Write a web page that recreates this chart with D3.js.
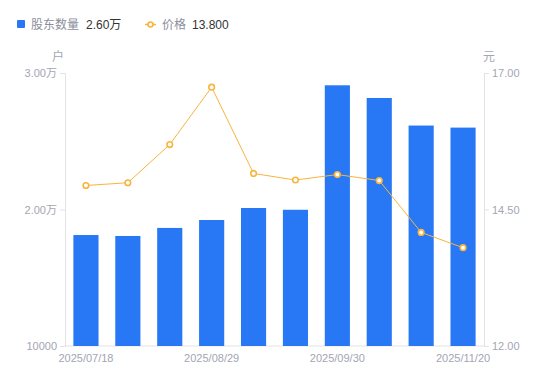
<!DOCTYPE html>
<html>
<head>
<meta charset="utf-8">
<script src="https://cdn.jsdelivr.net/npm/d3@7/dist/d3.min.js"></script>
<style>
  body { margin: 0; background: #fff; }
  svg text { font-family: "Liberation Sans", "Noto Sans CJK SC", sans-serif; }
</style>
</head>
<body>
<div id="chart"></div>
<script>
const dates = ['2025/07/18', '2025/07/31', '2025/08/15', '2025/08/29', '2025/09/10',
               '2025/09/19', '2025/09/30', '2025/10/20', '2025/10/31', '2025/11/20'];
const holders = [18130, 18060, 18650, 19230, 20110, 19980, 29100, 28170, 26150, 26000];
const prices = [14.94, 14.99, 15.69, 16.74, 15.16, 15.04, 15.14, 15.03, 14.08, 13.80];
const holderTicks = [10000, 20000, 30000];
const priceTicks = [12, 14.5, 17];
const shownDates = ['2025/07/18', '2025/08/29', '2025/09/30', '2025/11/20'];

const width = 550, height = 381;
const margin = { top: 73, right: 66, bottom: 35, left: 65 };
const innerW = width - margin.left - margin.right;
const innerH = height - margin.top - margin.bottom;

const barColor = '#2878f5';
const lineColor = '#f8b43f';
const axisColor = '#e3e3e6';
const textColor = '#a3a5b3';

const svg = d3.select('#chart').append('svg')
    .attr('width', width)
    .attr('height', height);

const g = svg.append('g')
    .attr('transform', 'translate(' + margin.left + ',' + margin.top + ')');

const x = d3.scaleBand().domain(dates).range([0, innerW]).paddingInner(0.4).paddingOuter(0.2);
const yL = d3.scaleLinear().domain([10000, 30000]).range([innerH, 0]);
const yR = d3.scaleLinear().domain([12, 17]).range([innerH, 0]);

function fmtHolder(v) {
    return v >= 20000 ? (v / 10000).toFixed(2) + '万' : String(v);
}

// axes
const leftAxis = g.append('g')
    .call(d3.axisLeft(yL).tickValues(holderTicks).tickFormat(fmtHolder).tickSize(5).tickPadding(3));
const rightAxis = g.append('g')
    .attr('transform', 'translate(' + innerW + ',0)')
    .call(d3.axisRight(yR).tickValues(priceTicks).tickFormat(d3.format('.2f')).tickSize(5).tickPadding(3));
const bottomAxis = g.append('g')
    .attr('transform', 'translate(0,' + innerH + ')')
    .call(d3.axisBottom(x).tickValues(shownDates).tickSize(0).tickPadding(8));

[leftAxis, rightAxis, bottomAxis].forEach(a => {
    a.select('.domain').attr('stroke', axisColor);
    a.selectAll('.tick line').attr('stroke', axisColor);
    a.selectAll('text')
        .attr('fill', textColor)
        .style('font-size', '11px')
        .style('font-family', '"Liberation Sans", "Noto Sans CJK SC", sans-serif');
});
bottomAxis.select('.domain').attr('d', 'M0,0H' + innerW);

// unit labels
g.append('text')
    .attr('x', -7).attr('y', -12)
    .attr('text-anchor', 'middle')
    .attr('fill', textColor)
    .style('font-size', '12px')
    .text('户');
g.append('text')
    .attr('x', innerW + 5).attr('y', -12)
    .attr('text-anchor', 'middle')
    .attr('fill', textColor)
    .style('font-size', '12px')
    .text('元');

// bars
g.selectAll('.bar')
    .data(holders)
  .enter().append('rect')
    .classed('bar', true)
    .attr('x', (d, i) => x(dates[i]))
    .attr('y', d => yL(d))
    .attr('width', x.bandwidth())
    .attr('height', d => innerH - yL(d))
    .attr('fill', barColor);

// price line
const line = d3.line()
    .x((d, i) => x(dates[i]) + x.bandwidth() / 2)
    .y(d => yR(d));
g.append('path')
    .datum(prices)
    .attr('d', line)
    .attr('fill', 'none')
    .attr('stroke', lineColor)
    .attr('stroke-width', 1);
g.selectAll('.pt')
    .data(prices)
  .enter().append('circle')
    .classed('pt', true)
    .attr('cx', (d, i) => x(dates[i]) + x.bandwidth() / 2)
    .attr('cy', d => yR(d))
    .attr('r', 2.8)
    .attr('fill', '#fff')
    .attr('stroke', lineColor)
    .attr('stroke-width', 1.6);

// legend
const legend = svg.append('g');
legend.append('rect')
    .attr('x', 17).attr('y', 20)
    .attr('width', 8).attr('height', 8)
    .attr('rx', 1)
    .attr('fill', barColor);
legend.append('text')
    .attr('x', 31).attr('y', 29)
    .attr('fill', '#8c8e9c')
    .style('font-size', '12px')
    .text('股东数量');
legend.append('text')
    .attr('x', 86).attr('y', 29)
    .attr('fill', '#333')
    .style('font-size', '12px')
    .text(fmtHolder(holders[holders.length - 1]));
legend.append('line')
    .attr('x1', 145).attr('x2', 156)
    .attr('y1', 24.5).attr('y2', 24.5)
    .attr('stroke', lineColor)
    .attr('stroke-width', 1.5);
legend.append('circle')
    .attr('cx', 150.5).attr('cy', 24.5)
    .attr('r', 2.5)
    .attr('fill', '#fff')
    .attr('stroke', lineColor)
    .attr('stroke-width', 1.6);
legend.append('text')
    .attr('x', 162).attr('y', 29)
    .attr('fill', '#8c8e9c')
    .style('font-size', '12px')
    .text('价格');
legend.append('text')
    .attr('x', 192).attr('y', 29)
    .attr('fill', '#333')
    .style('font-size', '12px')
    .text(prices[prices.length - 1].toFixed(3));
</script>
</body>
</html>
